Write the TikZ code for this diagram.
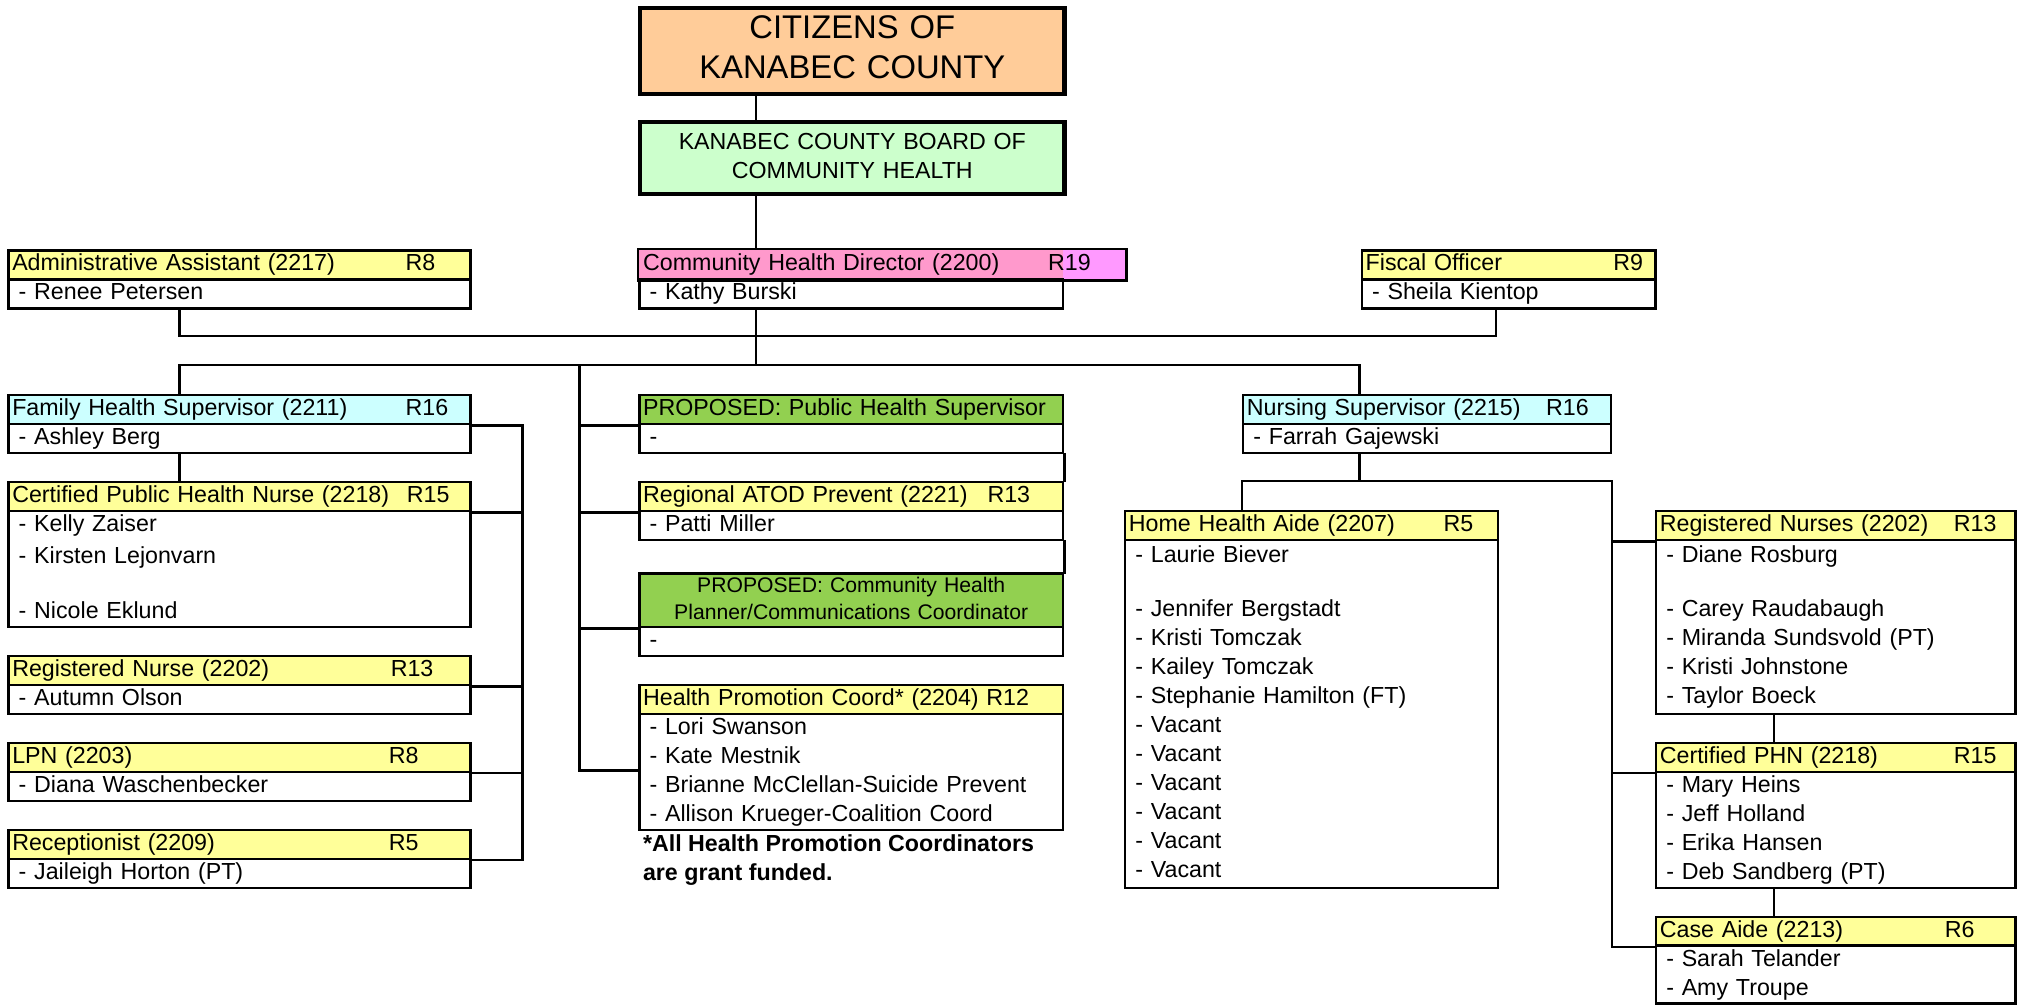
\documentclass[tikz,border=0pt]{standalone}
\usepackage{fontspec}
\setmainfont{Liberation Sans}
\definecolor{peach}{HTML}{FFCC99}
\definecolor{mint}{HTML}{CCFFCC}
\definecolor{lemon}{HTML}{FFFF99}
\definecolor{aqua}{HTML}{CCFFFF}
\definecolor{rose}{HTML}{FF99CC}
\definecolor{orchid}{HTML}{FF99FF}
\definecolor{leaf}{HTML}{92D050}
\begin{document}
\begin{tikzpicture}[x=0.5pt,y=-11.23pt]
\tikzset{boite/.style={draw, line width=1pt, anchor=north west, inner ysep=0pt, font=\fontsize{9}{11.23}\selectfont, execute at begin node=\strut, execute at end node=\strut},
hdr/.style={boite, inner xsep=1.5pt, align=left, minimum height=11.23pt},
bdy/.style={boite, inner xsep=4pt, align=left, minimum height=#1*11.23pt},
grd/.style={anchor=base west, inner sep=0pt, font=\fontsize{9}{11.23}\selectfont},
lien/.style={line width=1pt, line cap=rect}}
\useasboundingbox (0,-8.593) rectangle (1568,26.091);
\node[boite, line width=1.6pt, fill=peach, align=center, inner xsep=2pt, text width=160.5pt, minimum height=33.2pt, font=\fontsize{12.7}{15.5}\selectfont] (citz) at (494.5,-8.386) {CITIZENS OF\\KANABEC COUNTY};
\node[boite, line width=1.6pt, fill=mint, align=center, inner xsep=2pt, text width=160.5pt, minimum height=27.8pt, font=\fontsize{9}{11.25}\selectfont] (brd) at (494.5,-4.452) {KANABEC COUNTY BOARD OF\\COMMUNITY HEALTH};
\node[hdr, fill=lemon, text width=176pt] (admh) at (5.5,0) {Administrative Assistant (2217)};
\node[bdy=1, text width=171pt] (admb) at (5.5,1) {- Renee Petersen};
\node[grd] (admg) at (314,0 |- admh.base) {R8};
\node[hdr, draw=none, fill=rose, text width=161.25pt] (chdh) at (494.5,0) {Community Health Director (2200)};
\node[hdr, draw=none, fill=orchid, text width=21pt] (chdx) at (823,0) {};
\draw[line width=1pt] (chdh.north west) rectangle (chdx.south east);
\node[bdy=1, text width=156.25pt] (chdb) at (494.5,1) {- Kathy Burski};
\node[grd] (chdg) at (812,0 |- chdh.base) {R19};
\node[hdr, fill=lemon, text width=110.75pt] (fish) at (1054.5,0) {Fiscal Officer};
\node[bdy=1, text width=105.75pt] (fisb) at (1054.5,1) {- Sheila Kientop};
\node[grd] (fisg) at (1250,0 |- fish.base) {R9};
\node[hdr, fill=aqua, text width=176pt] (fhsh) at (5.5,5) {Family Health Supervisor (2211)};
\node[bdy=1, text width=171pt] (fhsb) at (5.5,6) {- Ashley Berg};
\node[grd] (fhsg) at (314,0 |- fhsh.base) {R16};
\node[hdr, fill=lemon, text width=176pt] (cphh) at (5.5,8) {Certified Public Health Nurse (2218)};
\node[bdy=4, text width=171pt] (cphb) at (5.5,9) {- Kelly Zaiser\\[1.3pt]- Kirsten Lejonvarn\\[9.8pt]- Nicole Eklund};
\node[grd] (cphg) at (315,0 |- cphh.base) {R15};
\node[hdr, fill=lemon, text width=176pt] (rnh) at (5.5,14) {Registered Nurse (2202)};
\node[bdy=1, text width=171pt] (rnb) at (5.5,15) {- Autumn Olson};
\node[grd] (rng) at (302.5,0 |- rnh.base) {R13};
\node[hdr, fill=lemon, text width=176pt] (lpnh) at (5.5,17) {LPN (2203)};
\node[bdy=1, text width=171pt] (lpnb) at (5.5,18) {- Diana Waschenbecker};
\node[grd] (lpng) at (301,0 |- lpnh.base) {R8};
\node[hdr, fill=lemon, text width=176pt] (rech) at (5.5,20) {Receptionist (2209)};
\node[bdy=1, text width=171pt] (recb) at (5.5,21) {- Jaileigh Horton (PT)};
\node[grd] (recg) at (301,0 |- rech.base) {R5};
\node[hdr, fill=leaf, text width=161.25pt] (phsh) at (494.5,5) {PROPOSED: Public Health Supervisor};
\node[bdy=1, text width=156.25pt] (phsb) at (494.5,6) {-};
\node[hdr, fill=lemon, text width=161.25pt] (regh) at (494.5,8) {Regional ATOD Prevent (2221)};
\node[bdy=1, text width=156.25pt] (regb) at (494.5,9) {- Patti Miller};
\node[grd] (regg) at (765,0 |- regh.base) {R13};
\node[hdr, fill=leaf, align=center, text width=161.25pt, minimum height=20.65pt, font=\fontsize{8.2}{10.3}\selectfont] (chph) at (494.5,11.162) {PROPOSED: Community Health\\Planner/Communications Coordinator};
\node[bdy=1, text width=156.25pt] (chpb) at (494.5,13) {-};
\node[hdr, fill=lemon, text width=161.25pt] (hph) at (494.5,15) {Health Promotion Coord* (2204) R12};
\node[bdy=4, text width=156.25pt] (hpb) at (494.5,16) {- Lori Swanson\\- Kate Mestnik\\- Brianne McClellan-Suicide Prevent\\- Allison Krueger-Coalition Coord};
\node[anchor=north west, inner sep=0pt, align=left, font=\bfseries\fontsize{9}{11.23}\selectfont, execute at begin node=\strut, execute at end node=\strut] (nota) at (498,20.2) {*All Health Promotion Coordinators\\are grant funded.};
\node[hdr, fill=aqua, text width=139.5pt] (nsh) at (962.5,5) {Nursing Supervisor (2215)};
\node[bdy=1, text width=134.5pt] (nsb) at (962.5,6) {- Farrah Gajewski};
\node[grd] (nsg) at (1198,0 |- nsh.base) {R16};
\node[hdr, fill=lemon, text width=141.5pt] (hhah) at (871,9) {Home Health Aide (2207)};
\node[bdy=12, text width=136.5pt] (hhab) at (871,10) {- Laurie Biever\\[9.8pt]- Jennifer Bergstadt\\- Kristi Tomczak\\- Kailey Tomczak\\- Stephanie Hamilton (FT)\\- Vacant\\- Vacant\\- Vacant\\- Vacant\\- Vacant\\- Vacant};
\node[grd] (hhag) at (1118.5,0 |- hhah.base) {R5};
\node[hdr, fill=lemon, text width=136.25pt] (rnsh) at (1282.5,9) {Registered Nurses (2202)};
\node[bdy=6, text width=131.25pt] (rnsb) at (1282.5,10) {- Diane Rosburg\\[9.8pt]- Carey Raudabaugh\\- Miranda Sundsvold (PT)\\- Kristi Johnstone\\- Taylor Boeck};
\node[grd] (rnsg) at (1514,0 |- rnsh.base) {R13};
\node[hdr, fill=lemon, text width=136.25pt] (cprh) at (1282.5,17) {Certified PHN (2218)};
\node[bdy=4, text width=131.25pt] (cprb) at (1282.5,18) {- Mary Heins\\- Jeff Holland\\- Erika Hansen\\- Deb Sandberg (PT)};
\node[grd] (cprg) at (1514,0 |- cprh.base) {R15};
\node[hdr, fill=lemon, text width=136.25pt] (cah) at (1282.5,23) {Case Aide (2213)};
\node[bdy=2, text width=131.25pt] (cab) at (1282.5,24) {- Sarah Telander\\- Amy Troupe};
\node[grd] (cag) at (1507,0 |- cah.base) {R6};
\coordinate (tronc) at (586,0);
\coordinate (gx) at (139,0);
\coordinate (fx) at (1159.5,0);
\coordinate (nx) at (1053.6,0);
\coordinate (mx) at (449,0);
\coordinate (lx) at (405,0);
\coordinate (vx) at (1375,0);
\coordinate (rang3) at (0,3);
\coordinate (rang4) at (0,4);
\coordinate (rang8) at (0,8);
\coordinate (hpj) at (494.5,18);
\draw[lien] (citz.south -| tronc) -- (brd.north -| tronc);
\draw[lien] (brd.south -| tronc) -- (chdh.north -| tronc);
\draw[lien] (admb.south -| gx) -- (gx |- rang3) -- (fx |- rang3) -- (fisb.south -| fx);
\draw[lien] (chdb.south -| tronc) -- (tronc |- rang4);
\draw[lien] (fhsh.north -| gx) -- (gx |- rang4) -- (nx |- rang4) -- (nsh.north -| nx);
\draw[lien] (mx |- rang4) -- (mx |- hpj) -- (hpj);
\foreach \n in {phsh,regh,chph} \draw[lien] (mx |- \n.south) -- (\n.south west);
\draw[lien] (phsb.south east) -- (regh.north east);
\draw[lien] (regb.south east) -- (chph.north east);
\draw[lien] (fhsb.south -| gx) -- (cphh.north -| gx);
\draw[lien] (fhsh.south east) -- (lx |- fhsh.south) -- (lx |- rech.south) -- (rech.south east);
\foreach \n in {cphh,rnh,lpnh} \draw[lien] (\n.south east) -- (lx |- \n.south);
\draw[lien] (nsb.south -| nx) -- (nx |- rang8);
\draw[lien] (hhah.north -| nsb.west) -- (nsb.west |- rang8) -- (nsb.east |- rang8) -- (nsb.east |- cah.south) -- (cah.south west);
\foreach \n in {rnsh,cprh} \draw[lien] (nsb.east |- \n.south) -- (\n.south west);
\draw[lien] (rnsb.south -| vx) -- (cprh.north -| vx);
\draw[lien] (cprb.south -| vx) -- (cah.north -| vx);
\end{tikzpicture}
\end{document}
